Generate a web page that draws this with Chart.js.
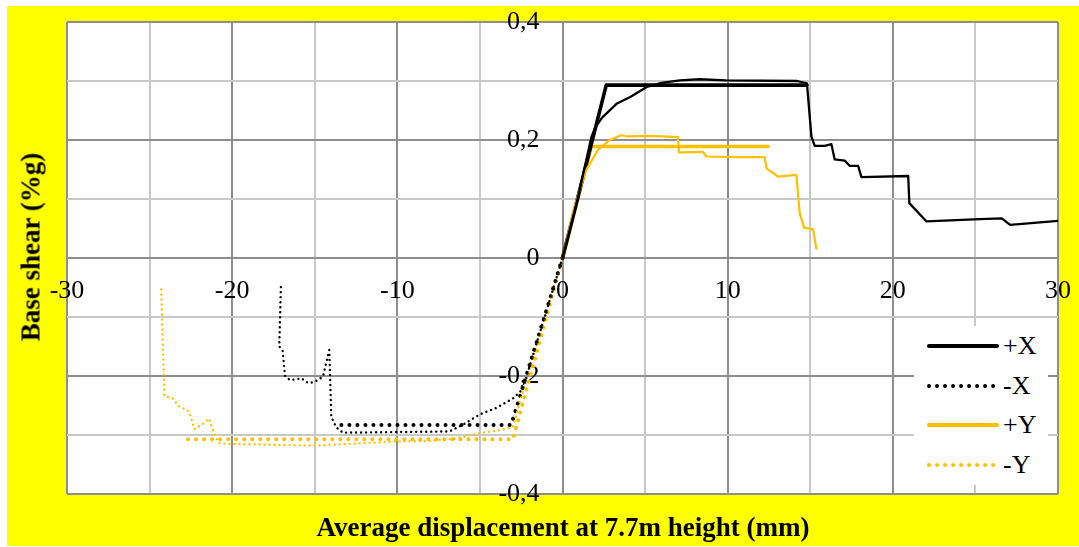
<!DOCTYPE html>
<html>
<head>
<meta charset="utf-8">
<script src="https://cdn.jsdelivr.net/npm/chart.js@4.4.1/dist/chart.umd.min.js"></script>
<style>
  html, body { margin: 0; padding: 0; background: #fff; }
  #wrap { position: relative; width: 1079px; height: 547px; font-family: 'Liberation Serif', 'Times New Roman', serif; }
  #myChart { position: absolute; left: 0; top: 0; }
  .ttl { position: absolute; font-weight: bold; font-size: 27px; white-space: nowrap; color: #000; }
  #xTitle { left: 563px; top: 527px; transform: translate(-50%, -50%); }
  #yTitle { left: 31px; top: 247px; transform: translate(-50%, -50%) rotate(-90deg); }
  #legend { position: absolute; left: 914px; top: 326px; width: 134px; height: 159px; background: #fff; }
  .row { position: absolute; left: 13px; width: 120px; height: 30px; font-size: 26px; line-height: 30px; white-space: nowrap; }
  .row svg { position: absolute; left: 0; top: 10px; }
  .row span { position: absolute; left: 76px; top: 0; }
</style>
</head>
<body>
<div id="wrap">
  <canvas id="myChart" width="1079" height="547"></canvas>
  <div class="ttl" id="xTitle">Average displacement at 7.7m height (mm)</div>
  <div class="ttl" id="yTitle">Base shear (%g)</div>
  <div id="legend"></div>
</div>
<script>
'use strict';

// +X : idealised (bilinear) and measured curve
var posXIdealDisp = [0, 2.65, 14.8];
var posXIdealShear = [0, 0.293, 0.293];
var posXDisp = [0, 1.0, 1.75, 2.0, 2.4, 3.3, 4.1, 5.1, 6.0, 7.1, 8.3, 9.9, 14.2, 14.8, 15.07, 15.27, 15.88, 16.28, 16.48, 17.09, 17.4, 17.9, 18.1, 20.93, 21.0, 22.04, 25.27, 26.6, 27.1, 30.0];
var posXShear = [0, 0.11, 0.205, 0.222, 0.238, 0.262, 0.273, 0.29, 0.297, 0.301, 0.303, 0.301, 0.3, 0.296, 0.206, 0.19, 0.19, 0.193, 0.167, 0.165, 0.156, 0.156, 0.137, 0.139, 0.093, 0.062, 0.066, 0.067, 0.056, 0.063];

// -X
var negXIdealDisp = [0, -3.11, -13.72];
var negXIdealShear = [0, -0.283, -0.283];
var negXDisp = [0, -1.0, -2.0, -2.4, -3.0, -4.0, -5.0, -6.0, -6.85, -13.3, -13.7, -14.0, -14.12, -14.5, -15.0, -15.4, -15.8, -16.5, -16.8, -16.95, -17.15, -17.05];
var negXShear = [0, -0.092, -0.184, -0.222, -0.238, -0.254, -0.265, -0.282, -0.294, -0.296, -0.287, -0.269, -0.156, -0.201, -0.21, -0.212, -0.204, -0.207, -0.2, -0.156, -0.15, -0.049];

// +Y
var posYIdealDisp = [0, 1.74, 12.45];
var posYIdealShear = [0, 0.189, 0.189];
var posYDisp = [0, 0.7, 1.43, 2.14, 2.85, 3.55, 3.96, 5.27, 6.99, 7.05, 8.5, 8.71, 10.73, 12.24, 12.35, 12.75, 13.05, 14.16, 14.36, 14.63, 15.17, 15.37];
var posYShear = [0, 0.085, 0.149, 0.183, 0.2, 0.208, 0.206, 0.207, 0.205, 0.179, 0.18, 0.172, 0.171, 0.171, 0.152, 0.144, 0.138, 0.141, 0.076, 0.051, 0.049, 0.016];

// -Y
var negYIdealDisp = [0, -3.0, -23.1];
var negYIdealShear = [0, -0.307, -0.307];
var negYDisp = [0, -2.2, -2.6, -3.0, -3.8, -5.03, -6.44, -8.06, -10.08, -14.93, -20.2, -20.8, -21.1, -21.4, -21.7, -22.3, -22.5, -22.7, -23.2, -23.6, -24.1, -24.3];
var negYShear = [0, -0.207, -0.246, -0.286, -0.292, -0.297, -0.306, -0.31, -0.311, -0.318, -0.315, -0.314, -0.297, -0.272, -0.28, -0.29, -0.269, -0.258, -0.252, -0.238, -0.234, -0.049];

var legendLabels = ['+X', '-X', '+Y', '-Y'];

var BLACK = '#000000';
var GOLD = '#FFC000';
var MAJOR = '#8e8e8e';
var MINOR = '#c8c8c8';

function pts(xs, ys) {
    return xs.map(function (x, i) { return {x: x, y: ys[i]}; });
}

function series(xs, ys, color, width, dash) {
    return {
        data: pts(xs, ys),
        borderColor: color,
        borderWidth: width,
        borderDash: dash || [],
        borderCapStyle: 'round',
        borderJoinStyle: 'round',
        pointRadius: 0,
        fill: false,
        tension: 0
    };
}

// keep edge labels from shrinking the plot area
function noPad(scale) {
    scale.paddingLeft = 0;
    scale.paddingRight = 0;
    scale.paddingTop = 0;
    scale.paddingBottom = 0;
}

var bgPlugin = {
    id: 'bg',
    beforeDraw: function (chart) {
        var c = chart.ctx, a = chart.chartArea;
        c.save();
        c.fillStyle = '#ffffff';
        c.fillRect(0, 0, chart.width, chart.height);
        c.fillStyle = '#ffff00';
        c.fillRect(7, 6, chart.width - 7, chart.height - 7);
        c.fillStyle = '#ffffff';
        c.fillRect(a.left, a.top, a.right - a.left, a.bottom - a.top);
        c.restore();
    }
};

Chart.defaults.font.family = "'Liberation Serif', 'Times New Roman', serif";
Chart.defaults.font.size = 26;
Chart.defaults.color = '#000';

var ctx = document.getElementById('myChart').getContext('2d');
var myChart = new Chart(ctx, {
    type: 'line',
    data: {
        datasets: [
            series(posXDisp, posXShear, BLACK, 2.3),
            series(negXDisp, negXShear, BLACK, 2.4, [0.01, 5]),
            series(posYDisp, posYShear, GOLD, 2.2),
            series(negYDisp, negYShear, GOLD, 2.4, [0.01, 5]),
            series(posXIdealDisp, posXIdealShear, BLACK, 3.6),
            series(negXIdealDisp, negXIdealShear, BLACK, 4, [0.01, 8]),
            series(posYIdealDisp, posYIdealShear, GOLD, 3.6),
            series(negYIdealDisp, negYIdealShear, GOLD, 4, [0.01, 8])
        ]
    },
    options: {
        responsive: false,
        animation: false,
        layout: { padding: { left: 67, top: 22, right: 21, bottom: 53 } },
        plugins: { legend: { display: false }, tooltip: { enabled: false } },
        scales: {
            x: {
                type: 'linear',
                position: { y: 0 },
                min: -30, max: 30,
                afterFit: noPad,
                grid: {
                    drawTicks: false,
                    lineWidth: 2,
                    color: function (c) { return c.tick && Math.round(c.tick.value) % 10 === 0 ? MAJOR : MINOR; }
                },
                border: { color: MAJOR, width: 2 },
                ticks: {
                    stepSize: 5, autoSkip: false, maxRotation: 0, padding: 18,
                    callback: function (v) { return Math.round(v) % 10 === 0 ? String(v) : ''; }
                }
            },
            y: {
                type: 'linear',
                // labels sit a little left of the zero line
                position: { x: -1.39 },
                min: -0.4, max: 0.4,
                afterFit: noPad,
                grid: {
                    drawTicks: false,
                    lineWidth: 2,
                    color: function (c) { return c.tick && Math.round(c.tick.value * 10) % 2 === 0 ? MAJOR : MINOR; }
                },
                border: { display: false },
                ticks: {
                    stepSize: 0.1, autoSkip: false, padding: 0,
                    callback: function (v) {
                        var n = Math.round(v * 10);
                        if (n % 2 !== 0) return '';
                        if (n === 0) return '0';
                        return (n / 10).toFixed(1).replace('.', ',');
                    }
                }
            }
        }
    },
    plugins: [bgPlugin]
});

// legend drawn as html over the plot
var legendStyles = [
    {color: BLACK, width: 4, dash: ''},
    {color: BLACK, width: 4, dash: '0.01 8'},
    {color: GOLD, width: 4, dash: ''},
    {color: GOLD, width: 4, dash: '0.01 8'}
];
var legendEl = document.getElementById('legend');
legendLabels.forEach(function (lbl, i) {
    var s = legendStyles[i];
    var row = document.createElement('div');
    row.className = 'row';
    row.style.top = (5 + i * 39.5) + 'px';
    row.innerHTML = '<svg width="72" height="10"><line x1="2" y1="5" x2="70" y2="5" stroke="' + s.color +
        '" stroke-width="' + s.width + '" stroke-linecap="round"' + (s.dash ? ' stroke-dasharray="' + s.dash + '"' : '') +
        '/></svg><span>' + lbl + '</span>';
    legendEl.appendChild(row);
});
</script>
</body>
</html>
